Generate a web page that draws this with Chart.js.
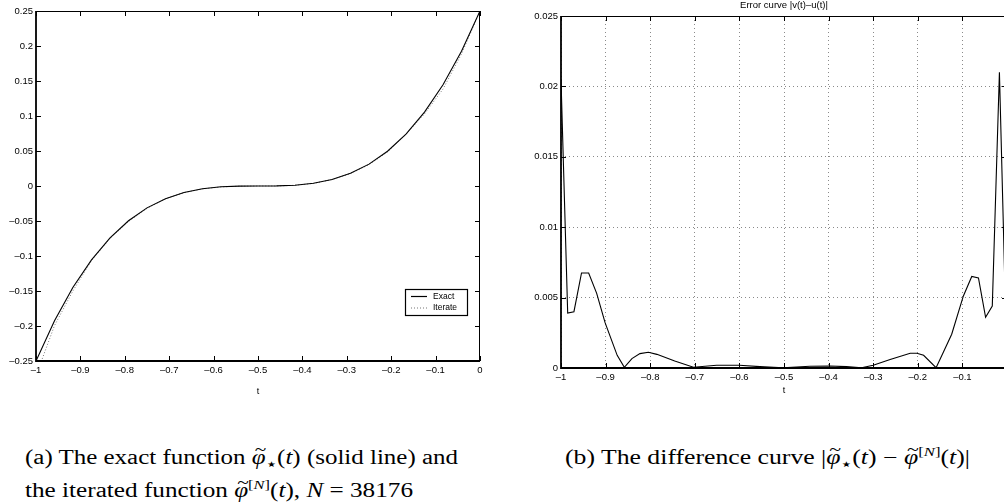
<!DOCTYPE html>
<html>
<head>
<meta charset="utf-8">
<script src="https://cdn.jsdelivr.net/npm/chart.js@4/dist/chart.umd.min.js"></script>
<style>
  html, body { margin:0; padding:0; background:#fff; width:1004px; height:504px; overflow:hidden; position:relative; }
  canvas { position:absolute; top:0; }
  #c1 { left:0; }
  #c2 { left:520px; }
  .cap { position:absolute; font-family:"Liberation Serif","DejaVu Serif",serif; font-size:20px; color:#000; white-space:nowrap; line-height:1; transform-origin:0 0; }
  .cap i { font-style:italic; }
  .ph { position:relative; display:inline-block; font-style:italic; }
  .ph .tl { position:absolute; left:0.14em; top:-0.36em; font-style:normal; font-size:0.85em; }
  .st { font-family:"DejaVu Sans",sans-serif; font-size:8px; position:relative; top:3px; margin:0 1px; }
  .sp { font-size:13px; position:relative; top:-8px; }
</style>
</head>
<body>
<canvas id="c1" width="500" height="410"></canvas>
<canvas id="c2" width="520" height="410"></canvas>
<div class="cap" id="capA1" data-w="433" style="left:25px; top:447px;">(a) The exact function <span class="ph">φ<span class="tl">~</span></span><span class="st">★</span>(<i>t</i>) (solid line) and</div>
<div class="cap" id="capA2" data-w="388" style="left:25px; top:480px;">the iterated function <span class="ph">φ<span class="tl">~</span></span><span class="sp">[<i>N</i>]</span>(<i>t</i>), <i>N</i> = 38176</div>
<div class="cap" id="capB" data-w="405" style="left:565px; top:447px;">(b) The difference curve |<span class="ph">φ<span class="tl">~</span></span><span class="st">★</span>(<i>t</i>) − <span class="ph">φ<span class="tl">~</span></span><span class="sp">[<i>N</i>]</span>(<i>t</i>)|</div>
<script>
// ---------- data ----------
const fnT = [-1, -0.9583, -0.9167, -0.875, -0.8333, -0.7917, -0.75, -0.7083, -0.6667, -0.625, -0.5833, -0.5417, -0.5,
             -0.4583, -0.4167, -0.375, -0.3333, -0.2917, -0.25, -0.2083, -0.1667, -0.125, -0.0833, -0.0417, 0];
const exactV = [-0.25, -0.19256, -0.14468, -0.10547, -0.07407, -0.04963, -0.03125, -0.01808, -0.00926, -0.00391, -0.00116, -0.00014, 0,
                0.00014, 0.00116, 0.00391, 0.00926, 0.01808, 0.03125, 0.04963, 0.07407, 0.10547, 0.14468, 0.19256, 0.25];
const iterateV = [-0.2710, -0.19936, -0.14968, -0.10637, -0.07497, -0.05073, -0.03195, -0.01818, -0.00946, -0.00411, -0.00136, -0.00024, 0.00002,
                  0.00004, 0.00103, 0.00379, 0.00923, 0.01778, 0.03055, 0.04858, 0.07387, 0.10307, 0.13848, 0.18856, 0.25];
const errT = [-1, -0.985, -0.971, -0.954, -0.938, -0.920, -0.901, -0.874, -0.858, -0.841, -0.823, -0.804, -0.785, -0.745, -0.703,
              -0.651, -0.6, -0.554, -0.502, -0.442, -0.397, -0.36, -0.326, -0.30, -0.262, -0.217, -0.202, -0.187, -0.159,
              -0.143, -0.124, -0.098, -0.079, -0.064, -0.048, -0.033, -0.017, 0];
const errV = [0.0205, 0.0039, 0.0040, 0.00675, 0.00675, 0.0053, 0.0032, 0.0009, 0.00005, 0.00067, 0.00102, 0.00112, 0.00097, 0.0005, 0.00005,
              0.0002, 0.0002, 0.0001, 0.00002, 0.00012, 0.00014, 0.0001, 0.00002, 0.0002, 0.0006, 0.00105, 0.00105, 0.0009, 0.00002,
              0.0011, 0.0024, 0.0051, 0.0065, 0.0064, 0.0036, 0.0044, 0.0210, 0.0];
const xTicks = [-1, -0.9, -0.8, -0.7, -0.6, -0.5, -0.4, -0.3, -0.2, -0.1, 0];
const xTickLabels = ['–1', '–0.9', '–0.8', '–0.7', '–0.6', '–0.5', '–0.4', '–0.3', '–0.2', '–0.1', '0'];
const leftYTicks = [-0.25, -0.2, -0.15, -0.1, -0.05, 0, 0.05, 0.1, 0.15, 0.2, 0.25];
const leftYTickLabels = ['–0.25', '–0.2', '–0.15', '–0.1', '–0.05', '0', '0.05', '0.1', '0.15', '0.2', '0.25'];
const rightYTicks = [0, 0.005, 0.01, 0.015, 0.02, 0.025];
const rightYTickLabels = ['0', '0.005', '0.01', '0.015', '0.02', '0.025'];
const seriesNames = ['Exact', 'Iterate'];
const errTitle = 'Error curve |v(t)–u(t)|';
const xTitle = 't';

// ---------- caption widths ----------
document.querySelectorAll('.cap').forEach(el => {
  const w = el.getBoundingClientRect().width;
  el.style.transform = 'scaleX(' + (parseFloat(el.dataset.w) / w) + ')';
});

// ---------- helpers ----------
const pts = (xs, ys) => xs.map((x, i) => ({x, y: ys[i]}));
const FAMILY = '"Liberation Sans", Arial, sans-serif';
const TICK_FONT = {family: FAMILY, size: 9.5};
const setTicks = arr => scale => { scale.ticks = arr.map(v => ({value: v})); };

const frame = {
  id: 'frame',
  afterDatasetsDraw(chart, args, opts) {
    const {ctx, chartArea: {left, right, top, bottom}, scales: {x, y}} = chart;
    const L = 5;
    ctx.save();
    ctx.strokeStyle = '#000';
    ctx.lineWidth = 1;
    ctx.beginPath();
    ctx.moveTo(left, top + 0.5); ctx.lineTo(right, top + 0.5);
    ctx.moveTo(right - 0.5, top); ctx.lineTo(right - 0.5, bottom);
    x.ticks.forEach(t => {
      const p = Math.round(x.getPixelForValue(t.value)) + 0.5;
      ctx.moveTo(p, bottom); ctx.lineTo(p, bottom - L);
      ctx.moveTo(p, top); ctx.lineTo(p, top + L);
    });
    y.ticks.forEach(t => {
      const p = Math.round(y.getPixelForValue(t.value)) + 0.5;
      ctx.moveTo(left, p); ctx.lineTo(left + L, p);
      ctx.moveTo(right, p); ctx.lineTo(right - L, p);
    });
    ctx.stroke();
    ctx.lineWidth = 1.8;
    ctx.beginPath();
    ctx.moveTo(left, top); ctx.lineTo(left, bottom); ctx.lineTo(right, bottom);
    ctx.stroke();
    if (opts.legend) {
      const bx = opts.legend.x, by = opts.legend.y, bw = 62, bh = 26;
      ctx.fillStyle = '#fff';
      ctx.fillRect(bx, by, bw, bh);
      ctx.lineWidth = 1.2;
      ctx.strokeRect(bx + 0.5, by + 0.5, bw, bh);
      ctx.font = '8.5px ' + FAMILY;
      ctx.textBaseline = 'middle';
      ctx.fillStyle = '#000';
      chart.data.datasets.forEach((ds, i) => {
        const yy = by + 7.5 + i * 11.5;
        ctx.beginPath();
        ctx.strokeStyle = ds.borderColor;
        ctx.lineWidth = 1.2;
        ctx.setLineDash(ds.borderDash || []);
        ctx.moveTo(bx + 6, yy); ctx.lineTo(bx + 22, yy);
        ctx.stroke();
        ctx.setLineDash([]);
        ctx.fillText(ds.label, bx + 28, yy);
      });
    }
    ctx.restore();
  }
};

Chart.defaults.color = '#000';

// ---------- left chart ----------
new Chart(document.getElementById('c1'), {
  type: 'line',
  data: {
    datasets: [
      {label: seriesNames[0], data: pts(fnT, exactV), borderColor: '#000', borderWidth: 1.1, pointRadius: 0, tension: 0},
      {label: seriesNames[1], data: pts(fnT, iterateV), borderColor: '#777', borderWidth: 1, borderDash: [1, 2], pointRadius: 0, tension: 0}
    ]
  },
  options: {
    responsive: false, animation: false, devicePixelRatio: 1,
    layout: {padding: {top: 11, right: 20, left: 0, bottom: 0}},
    plugins: {legend: {display: false}, tooltip: {enabled: false}, frame: {legend: {x: 405, y: 289}}},
    scales: {
      x: {
        type: 'linear', min: -1, max: 0,
        afterBuildTicks: setTicks(xTicks),
        afterFit: s => { s.height = 49; },
        grid: {display: false, drawTicks: false},
        border: {display: false},
        ticks: {font: TICK_FONT, padding: 4, maxRotation: 0, autoSkip: false, callback: (v, i) => xTickLabels[i]},
        title: {display: true, text: xTitle, font: {family: FAMILY, size: 9}, padding: {top: 4, bottom: 13}}
      },
      y: {
        type: 'linear', min: -0.25, max: 0.25,
        afterBuildTicks: setTicks(leftYTicks),
        afterFit: s => { s.width = 36; },
        grid: {display: false, drawTicks: false},
        border: {display: false},
        ticks: {font: TICK_FONT, padding: 3, autoSkip: false, callback: (v, i) => leftYTickLabels[i]}
      }
    }
  },
  plugins: [frame]
});

// ---------- right chart ----------
new Chart(document.getElementById('c2'), {
  type: 'line',
  data: {
    datasets: [
      {label: 'error', data: pts(errT, errV), borderColor: '#000', borderWidth: 1.1, pointRadius: 0, tension: 0}
    ]
  },
  options: {
    responsive: false, animation: false, devicePixelRatio: 1,
    layout: {padding: {top: 0, right: 33, left: 0, bottom: 0}},
    plugins: {
      legend: {display: false}, tooltip: {enabled: false}, frame: {},
      title: {display: true, text: errTitle, fullSize: false, color: '#000',
              font: {family: FAMILY, size: 9.5, weight: 'normal'}, padding: {top: 0, bottom: 4.6}}
    },
    scales: {
      x: {
        type: 'linear', min: -1, max: 0,
        afterBuildTicks: setTicks(xTicks),
        afterFit: s => { s.height = 42; },
        grid: {display: true, drawTicks: false, color: '#8a8a8a', lineWidth: 1},
        border: {display: false, dash: [1, 3]},
        ticks: {font: TICK_FONT, padding: 4, maxRotation: 0, autoSkip: false, callback: (v, i) => xTickLabels[i]},
        title: {display: true, text: xTitle, font: {family: FAMILY, size: 9}, padding: {top: 1, bottom: 14}}
      },
      y: {
        type: 'linear', min: 0, max: 0.025,
        afterBuildTicks: setTicks(rightYTicks),
        afterFit: s => { s.width = 41; },
        grid: {display: true, drawTicks: false, color: '#8a8a8a', lineWidth: 1},
        border: {display: false, dash: [1, 3]},
        ticks: {font: TICK_FONT, padding: 3, autoSkip: false, callback: (v, i) => rightYTickLabels[i]}
      }
    }
  },
  plugins: [frame]
});
</script>
</body>
</html>
